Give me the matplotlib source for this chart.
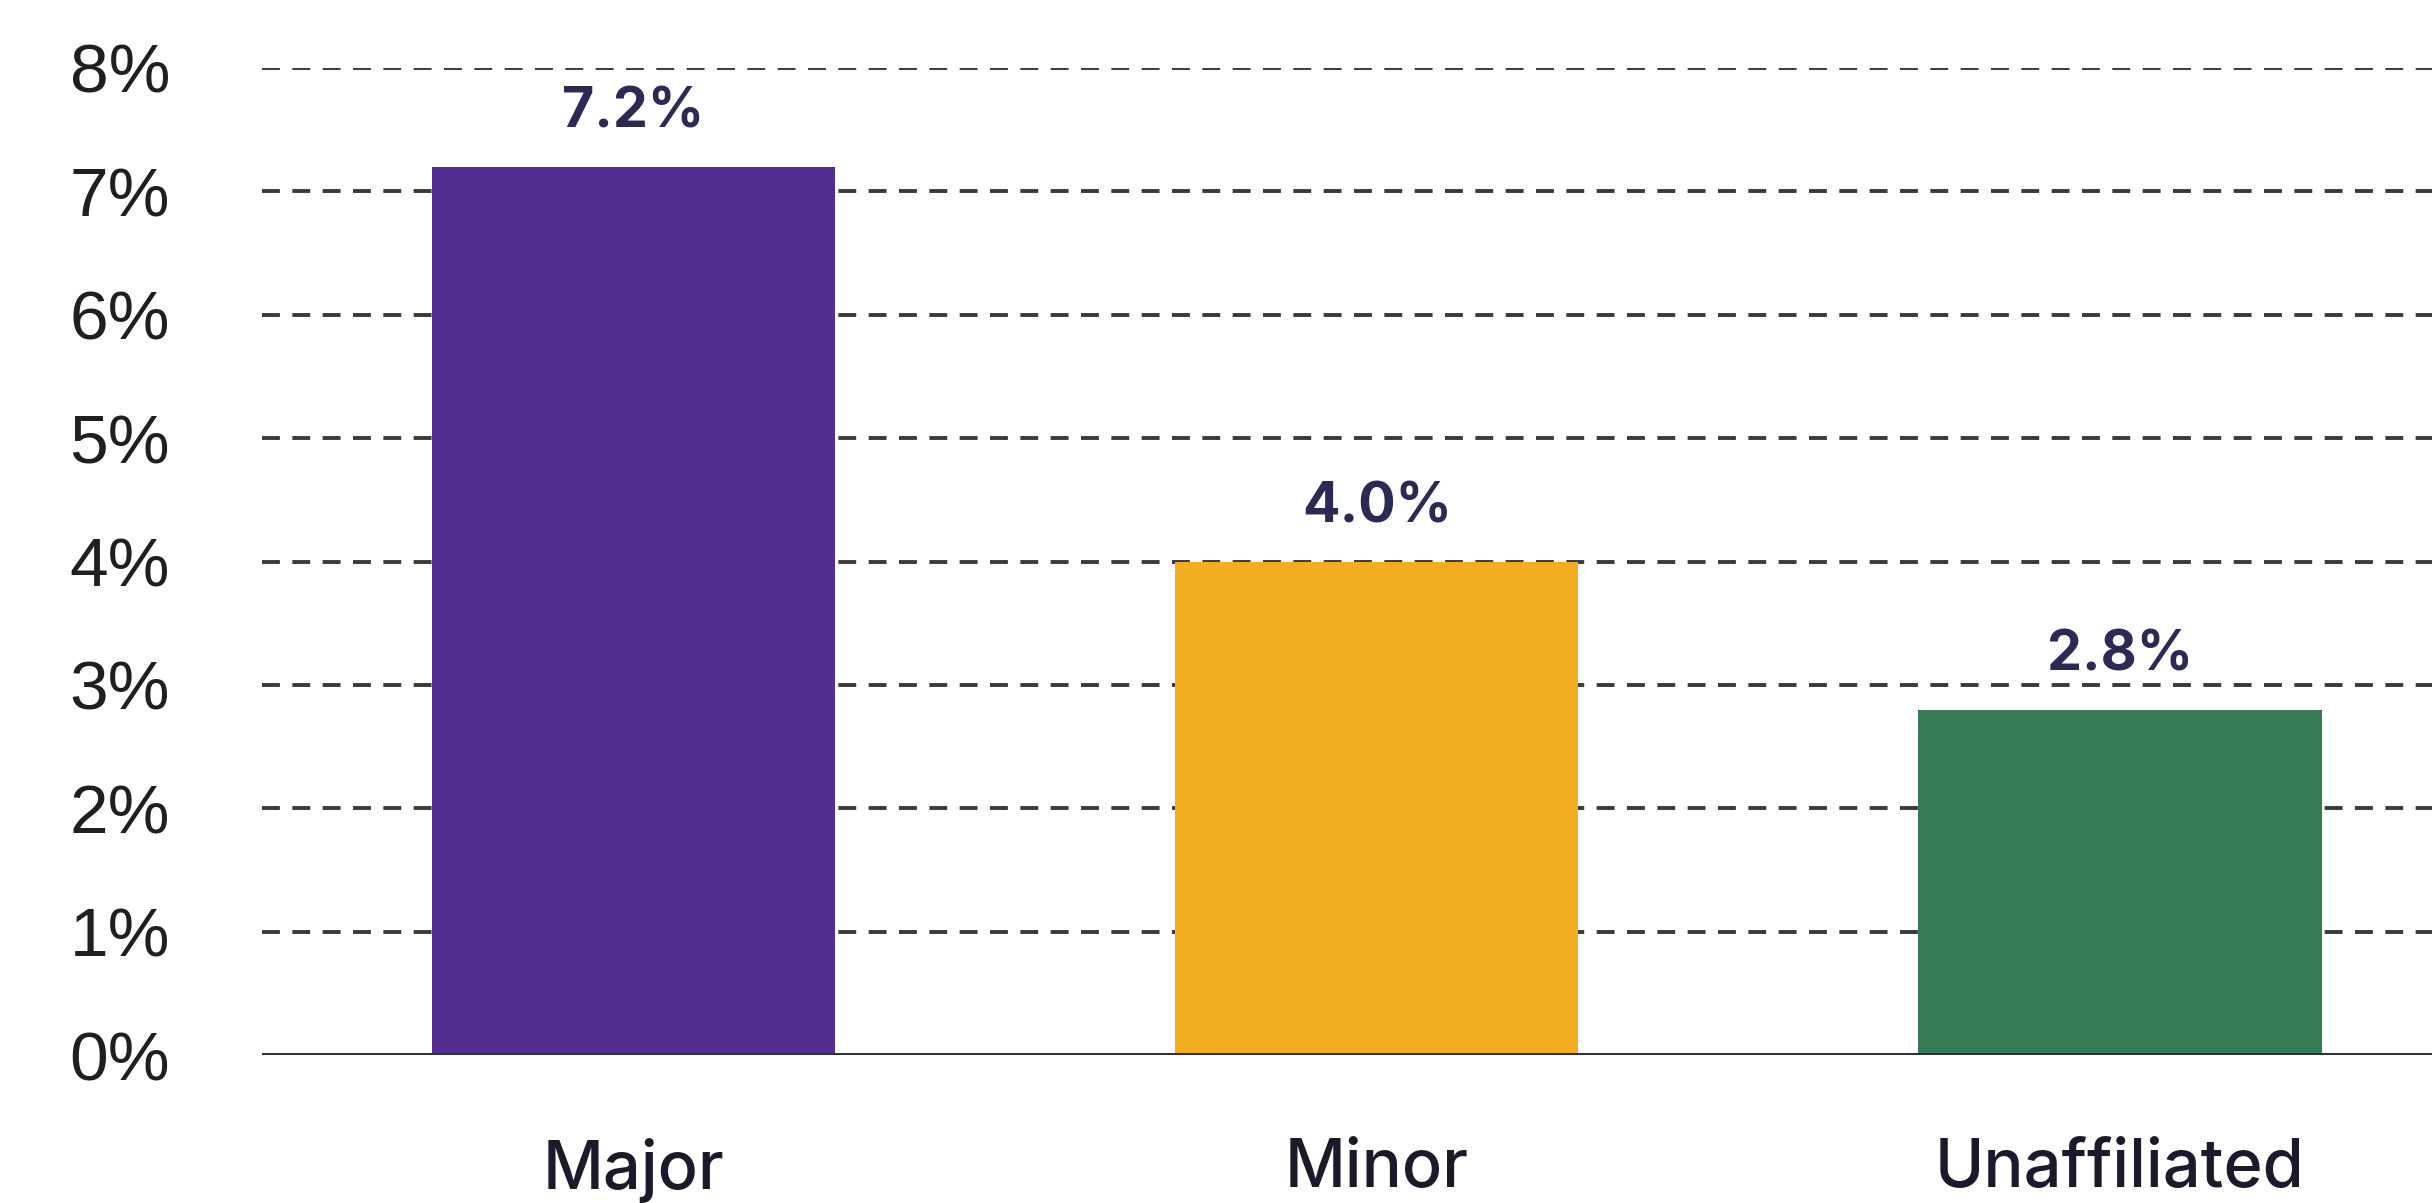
import matplotlib
matplotlib.use("Agg")
import matplotlib.pyplot as plt
from matplotlib.ticker import FuncFormatter

categories = ["Major", "Minor", "Unaffiliated"]
values = [7.2, 4.0, 2.8]
value_labels = ["7.2%", "4.0%", "2.8%"]
colors = ["#512D8E", "#F2AE1E", "#377A53"]
yticks = [0, 1, 2, 3, 4, 5, 6, 7, 8]

fig = plt.figure(figsize=(24.32, 12.03), dpi=100)
ax = fig.add_axes([0.1077, 0.123, 0.8923, 0.8205])

x = list(range(len(categories)))
bars = ax.bar(x, values, width=0.543, color=colors, zorder=3)

ax.set_xlim(-0.5, 2.42)
ax.set_ylim(0, 8)
ax.set_yticks(yticks)
ax.yaxis.set_major_formatter(FuncFormatter(lambda v, p: f"{v:.0f}%"))
ax.set_xticks(x)
ax.set_xticklabels(categories, family="Inter", fontweight="medium", fontsize=48, color="#1a1a2a")

for lab in ax.get_yticklabels():
    lab.set_family("Liberation Sans")
    lab.set_fontsize(50)
    lab.set_color("#1f1f1f")

ax.tick_params(axis="y", length=0, pad=66)
ax.tick_params(axis="x", length=0, pad=60)

for t in yticks[1:]:
    ax.axhline(t, color="#3a3a3a", lw=2.8, linestyle=(0, (4.6, 3.2)), zorder=1)
ax.axhline(0, color="#333333", lw=3.6, zorder=4)

for spine in ax.spines.values():
    spine.set_visible(False)

for b, lbl in zip(bars, value_labels):
    ax.annotate(lbl, (b.get_x() + b.get_width() / 2, b.get_height()),
                xytext=(0, 20), textcoords="offset points",
                ha="center", va="bottom", family="Inter", fontweight="bold",
                fontsize=40, color="#2B2A55")

fig.savefig("out.png", dpi=100)
